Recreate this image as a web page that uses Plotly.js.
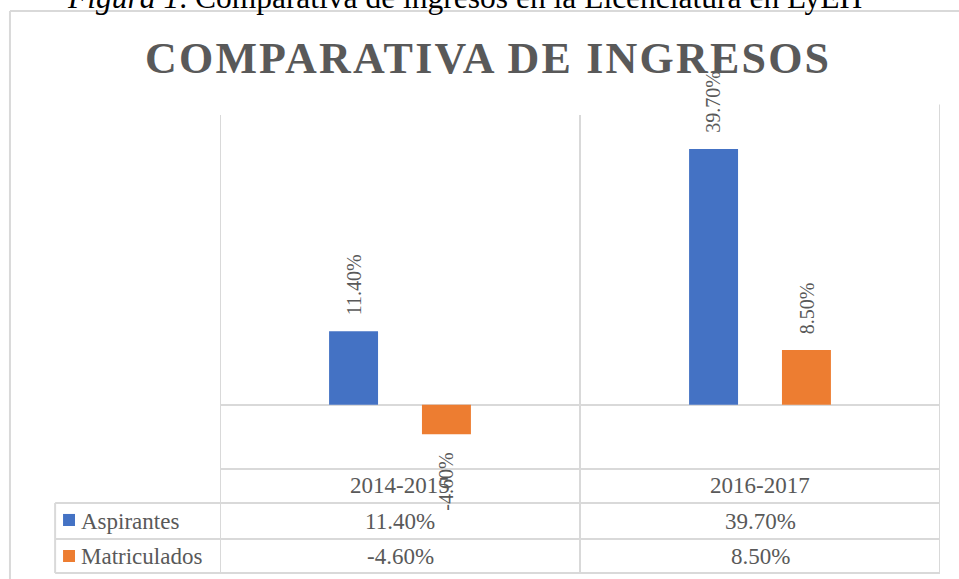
<!DOCTYPE html>
<html>
<head>
<meta charset="utf-8">
<script src="https://cdn.plot.ly/plotly-3.0.1.min.js"></script>
<style>
  html, body { margin: 0; padding: 0; background: #ffffff; }
  #chart { width: 959px; height: 579px; }
  .gtitle { letter-spacing: 2.2px; }
</style>
</head>
<body>
<div id="chart"></div>
<script>
// ---- Data ----
const categories = ['2014-2015', '2016-2017'];
const seriesNames = ['Aspirantes', 'Matriculados'];
const aspirantes = [11.4, 39.7];
const matriculados = [-4.6, 8.5];
const seriesColors = ['#4472C4', '#ED7D31'];

const chartTitle = 'COMPARATIVA DE INGRESOS';
const captionText = '<i>Figura 1</i>. Comparativa de ingresos en la Licenciatura en LyEH';

// ---- Style constants ----
const gridColor = '#D9D9D9';
const textColor = '#595959';
const serif = 'Liberation Serif, Times New Roman, Times, serif';
const barWidth = 0.136;
const barOffsets = [-0.197, 0.061];
const allSeries = [aspirantes, matriculados];

function fmt(v) { return v.toFixed(2) + '%'; }

const traces = allSeries.map((vals, s) => ({
  type: 'bar',
  name: seriesNames[s],
  x: categories,
  y: vals,
  width: barWidth,
  offset: barOffsets[s],
  marker: { color: seriesColors[s], line: { width: 0 } },
  hoverinfo: 'x+y+name',
  showlegend: false
}));

const annotations = [];

// Data labels above / below bars (rotated)
allSeries.forEach((vals, s) => {
  vals.forEach((v, i) => {
    annotations.push({
      xref: 'x', yref: 'y',
      x: i + barOffsets[s] + barWidth / 2,
      y: v,
      text: fmt(v),
      textangle: -90,
      showarrow: false,
      xanchor: 'center',
      yanchor: v >= 0 ? 'bottom' : 'top',
      yshift: v >= 0 ? 14 : -16,
      font: { family: serif, size: 20, color: textColor }
    });
  });
});

// Data table rows (paper coordinates relative to plot area)
const rowHeaderY = -0.048;
const rowY = [-0.1469, -0.2458];
categories.forEach((c, i) => {
  annotations.push({
    xref: 'x', yref: 'paper', x: i, y: rowHeaderY,
    text: c, showarrow: false, xanchor: 'center', yanchor: 'middle',
    font: { family: serif, size: 23, color: textColor }
  });
  allSeries.forEach((vals, s) => {
    annotations.push({
      xref: 'x', yref: 'paper', x: i, y: rowY[s],
      text: fmt(vals[i]), showarrow: false, xanchor: 'center', yanchor: 'middle',
      font: { family: serif, size: 23, color: textColor }
    });
  });
});
seriesNames.forEach((n, s) => {
  annotations.push({
    xref: 'paper', yref: 'paper', x: -0.1958, y: rowY[s],
    text: n, showarrow: false, xanchor: 'left', yanchor: 'middle',
    font: { family: serif, size: 23, color: textColor }
  });
});

// Figure caption (cut at top, as in the source)
annotations.push({
  xref: 'paper', yref: 'paper', x: 0.340, y: 1.331,
  text: captionText, showarrow: false, xanchor: 'center', yanchor: 'middle',
  font: { family: serif, size: 31.5, color: '#000000' }
});

const line = { color: gridColor, width: 2 };
const tblLeft = -0.229, tblBottom = -0.2938;
const shapes = [
  // outer chart border
  { type: 'line', xref: 'paper', yref: 'paper', x0: -0.2917, x1: -0.2917, y0: 1.2938, y1: -0.45, line: line },
  { type: 'line', xref: 'paper', yref: 'paper', x0: -0.2917, x1: 1.06, y0: 1.2938, y1: 1.2938, line: line },
  // vertical category boundaries through the table
  { type: 'line', xref: 'x', yref: 'paper', x0: -0.5, x1: -0.5, y0: 1, y1: tblBottom, line: line },
  { type: 'line', xref: 'x', yref: 'paper', x0: 0.5, x1: 0.5, y0: 1, y1: tblBottom, line: line },
  { type: 'line', xref: 'x', yref: 'paper', x0: 1.5, x1: 1.5, y0: 1.03, y1: tblBottom, line: line },
  // table horizontal lines
  { type: 'line', xref: 'paper', yref: 'paper', x0: 0, x1: 1, y0: 0, y1: 0, line: line },
  { type: 'line', xref: 'paper', yref: 'paper', x0: tblLeft, x1: 1, y0: -0.096, y1: -0.096, line: line },
  { type: 'line', xref: 'paper', yref: 'paper', x0: tblLeft, x1: 1, y0: -0.1977, y1: -0.1977, line: line },
  { type: 'line', xref: 'paper', yref: 'paper', x0: tblLeft, x1: 1, y0: tblBottom, y1: tblBottom, line: line },
  { type: 'line', xref: 'paper', yref: 'paper', x0: tblLeft, x1: tblLeft, y0: -0.096, y1: tblBottom, line: line },
  // legend keys
  { type: 'rect', xref: 'paper', yref: 'paper', x0: -0.218, x1: -0.2014, y0: -0.127, y1: -0.161,
    fillcolor: seriesColors[0], line: { width: 0 } },
  { type: 'rect', xref: 'paper', yref: 'paper', x0: -0.218, x1: -0.2014, y0: -0.2288, y1: -0.2627,
    fillcolor: seriesColors[1], line: { width: 0 } }
];

const layout = {
  width: 959, height: 579,
  margin: { l: 220, r: 19, t: 115, b: 110 },
  paper_bgcolor: '#ffffff', plot_bgcolor: '#ffffff',
  title: {
    text: chartTitle,
    x: 0.509, xref: 'container', xanchor: 'center',
    y: 0.9007, yref: 'container', yanchor: 'middle',
    font: { family: serif, size: 44, color: textColor, weight: 'bold' }
  },
  barmode: 'overlay',
  xaxis: {
    type: 'category', range: [-0.5, 1.5],
    showticklabels: false, showgrid: false, zeroline: false, showline: false, ticks: ''
  },
  yaxis: {
    range: [-10, 45], showticklabels: false, showgrid: false,
    zeroline: true, zerolinecolor: gridColor, zerolinewidth: 2, showline: false, ticks: ''
  },
  showlegend: false,
  annotations: annotations,
  shapes: shapes
};

Plotly.newPlot('chart', traces, layout, { displayModeBar: false, staticPlot: true });
</script>
</body>
</html>
